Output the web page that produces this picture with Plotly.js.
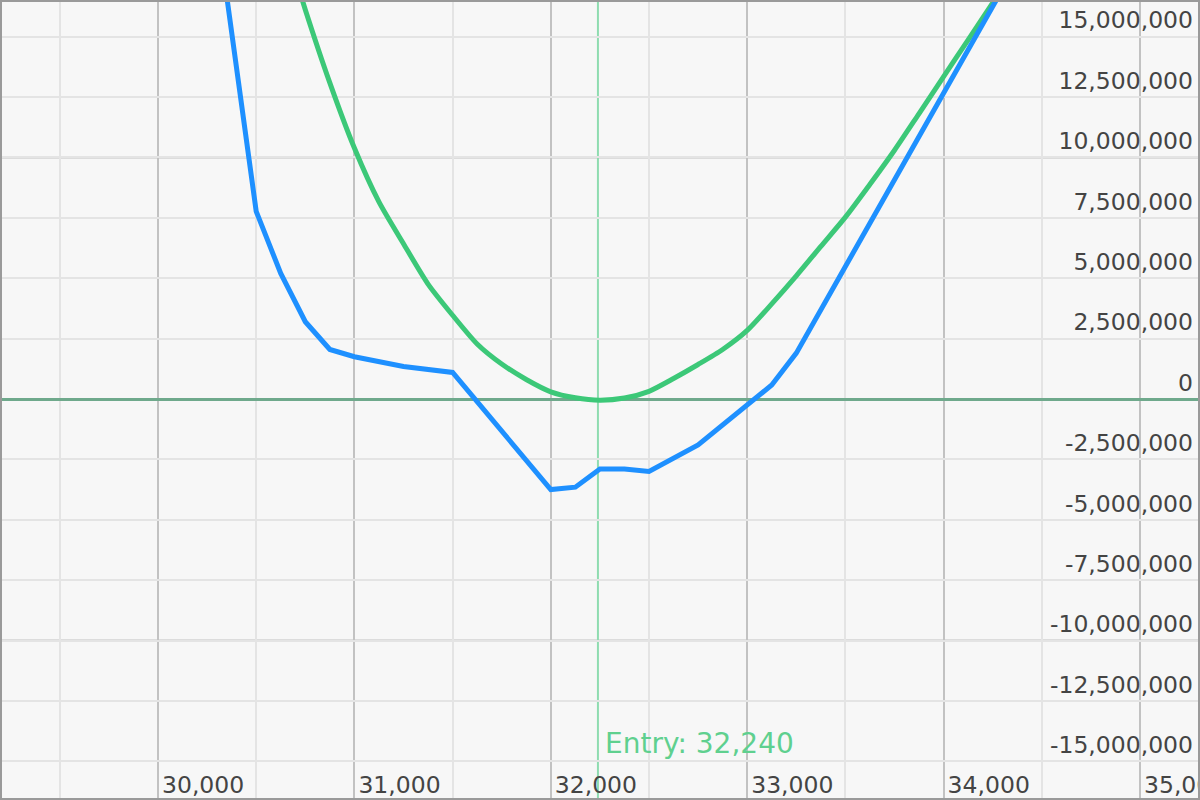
<!DOCTYPE html>
<html>
<head>
<meta charset="utf-8">
<script src="https://cdn.plot.ly/plotly-3.0.1.min.js"></script>
<style>
  html, body { margin: 0; padding: 0; background: #f7f7f7; }
  #chart { width: 1200px; height: 800px; }
</style>
</head>
<body>
<div id="chart"></div>
<script>
// Expiry P/L (blue, piecewise linear)
const expiryPrice = [30250, 30500, 30625, 30750, 30875, 31000, 31250, 31500, 32000, 32125, 32250, 32375, 32500, 32750, 33125, 33250, 34500];
const expiryPnl   = [22600000, 7770000, 5200000, 3200000, 2050000, 1750000, 1350000, 1100000, -3750000, -3650000, -2900000, -2900000, -3000000, -1900000, 580000, 1900000, 19840000];

// Current P/L (green, smooth)
const currentPrice = [30500, 30625, 30750, 30875, 31000, 31125, 31250, 31375, 31500, 31625, 31750, 31875, 32000, 32125, 32250, 32375, 32500, 32625, 32750, 32875, 33000, 33125, 33250, 33375, 33500, 33625, 33750, 33875, 34000, 34125, 34250, 34375, 34500];
const currentPnl   = [22700000, 19400000, 16120000, 13090000, 10390000, 8160000, 6430000, 4760000, 3470000, 2280000, 1450000, 810000, 300000, 50000, -50000, 40000, 320000, 850000, 1430000, 2050000, 2840000, 3940000, 5100000, 6320000, 7530000, 8890000, 10300000, 11820000, 13350000, 14870000, 16400000, 17900000, 19440000];

const entryPrice = 32240;

const yTickVals = [-15000000, -12500000, -10000000, -7500000, -5000000, -2500000, 0, 2500000, 5000000, 7500000, 10000000, 12500000, 15000000];
const yTickText = ['-15,000,000', '-12,500,000', '-10,000,000', '-7,500,000', '-5,000,000', '-2,500,000', '0', '2,500,000', '5,000,000', '7,500,000', '10,000,000', '12,500,000', '15,000,000'];
const yMajorLines = [-10000000, 10000000];

const traces = [
  {
    x: currentPrice, y: currentPnl, type: 'scatter', mode: 'lines',
    line: { color: '#3cc878', width: 5, shape: 'spline', smoothing: 0.7 }, hoverinfo: 'skip'
  },
  {
    x: expiryPrice, y: expiryPnl, type: 'scatter', mode: 'lines',
    line: { color: '#1e90ff', width: 5 }, hoverinfo: 'skip'
  }
];

const shapes = yMajorLines.map(v => ({
  type: 'line', xref: 'paper', x0: 0, x1: 1, yref: 'y', y0: v, y1: v,
  line: { color: '#c2c2c2', width: 2 }, layer: 'below'
}));
shapes.push({
  type: 'line', xref: 'x', x0: entryPrice, x1: entryPrice, yref: 'paper', y0: 0, y1: 1,
  line: { color: '#8fdcb0', width: 2 }, layer: 'below'
});
shapes.push({
  type: 'rect', xref: 'paper', yref: 'paper', x0: 0, x1: 1, y0: 0, y1: 1,
  line: { color: '#9a9a9a', width: 4 }, fillcolor: 'rgba(0,0,0,0)', layer: 'above'
});

const layout = {
  width: 1200, height: 800,
  margin: { l: 0, r: 0, t: 0, b: 0, pad: 0 },
  paper_bgcolor: '#f7f7f7', plot_bgcolor: '#f7f7f7',
  showlegend: false,
  font: { family: 'DejaVu Sans, Verdana, sans-serif', size: 23.5, color: '#666666' },
  xaxis: {
    range: [29195.5, 35305.5],
    tickmode: 'linear', tick0: 0, dtick: 1000, tickformat: ',d',
    showgrid: true, gridcolor: '#c2c2c2', gridwidth: 2,
    minor: { tickmode: 'linear', tick0: 0, dtick: 500, showgrid: true, gridcolor: '#e4e4e4', gridwidth: 2, ticks: '' },
    ticks: '', ticklabelposition: 'inside right', ticklabeloverflow: 'allow',
    ticklabelstandoff: -4, ticklabelshift: 4,
    zeroline: false, showline: false, fixedrange: true
  },
  yaxis: {
    range: [-16600000, 16520000], side: 'right',
    tickmode: 'array', tickvals: yTickVals, ticktext: yTickText,
    showgrid: true, gridcolor: '#e4e4e4', gridwidth: 2,
    ticks: '', ticklabelposition: 'inside top', ticklabeloverflow: 'allow',
    ticklabelstandoff: 4,
    zeroline: true, zerolinecolor: '#6fa98c', zerolinewidth: 3,
    showline: false, fixedrange: true
  },
  shapes: shapes,
  annotations: [{
    x: entryPrice, xref: 'x', y: 1 - 743 / 800, yref: 'paper',
    text: 'Entry: ' + entryPrice.toLocaleString('en-US'),
    showarrow: false, xanchor: 'left', yanchor: 'middle', xshift: 5,
    font: { size: 28, color: '#5fd08f', family: 'DejaVu Sans, Verdana, sans-serif' }
  }]
};

Plotly.newPlot('chart', traces, layout, { staticPlot: true, displayModeBar: false });
</script>
</body>
</html>
